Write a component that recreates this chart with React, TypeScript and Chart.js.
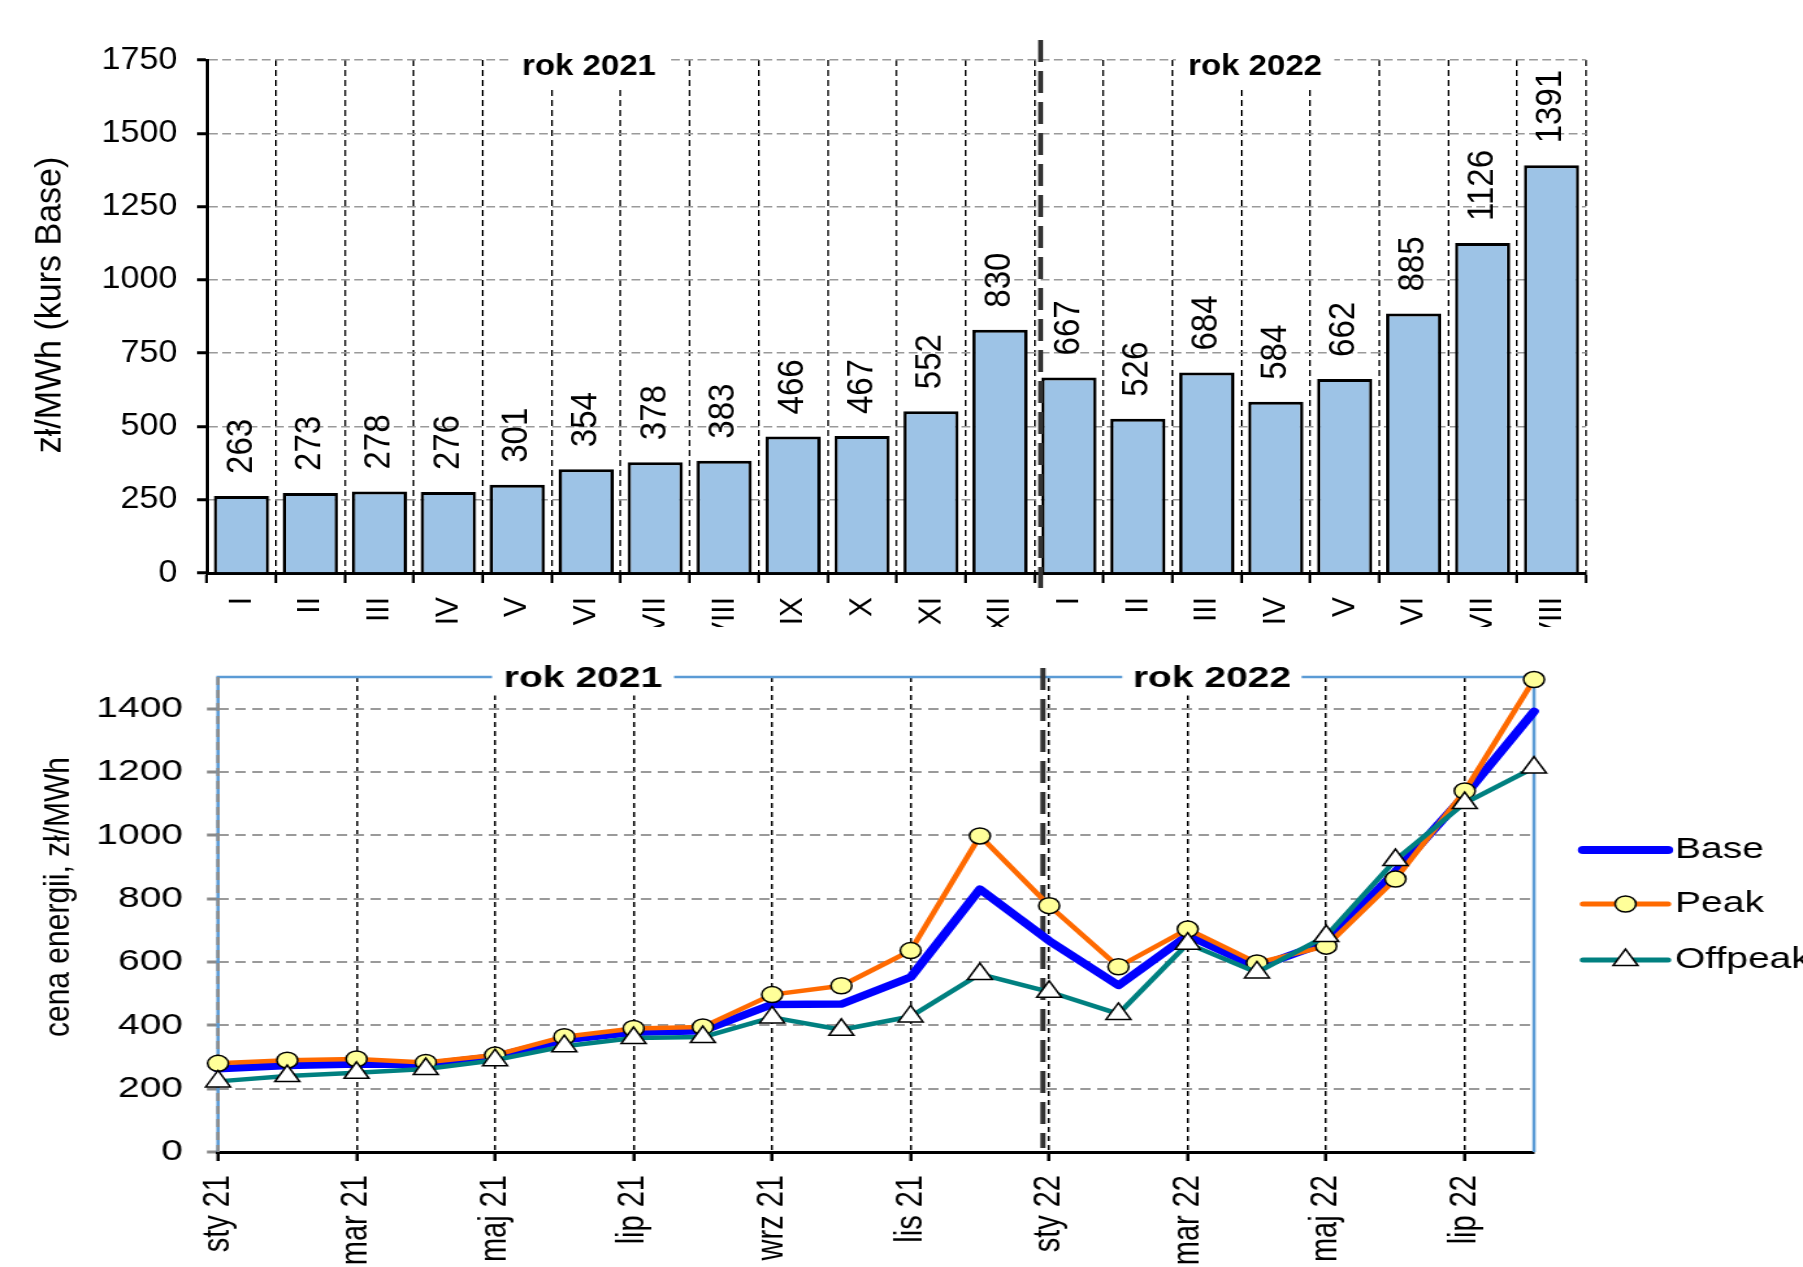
import React, { useEffect, useRef } from 'react';
import { Chart, registerables } from 'chart.js';

Chart.register(...registerables);

const FONT = '"Liberation Sans", Arial, Helvetica, sans-serif';
Chart.defaults.font.family = FONT;

// ---------------- data ----------------
const romanMonths = ['I', 'II', 'III', 'IV', 'V', 'VI', 'VII', 'VIII', 'IX', 'X', 'XI', 'XII', 'I', 'II', 'III', 'IV', 'V', 'VI', 'VII', 'VIII'];
const baseMonthly = [263, 273, 278, 276, 301, 354, 378, 383, 466, 467, 552, 830, 667, 526, 684, 584, 662, 885, 1126, 1391];

const monthLabels = ['sty 21', 'lut 21', 'mar 21', 'kwi 21', 'maj 21', 'cze 21', 'lip 21', 'sie 21', 'wrz 21', 'paź 21', 'lis 21', 'gru 21', 'sty 22', 'lut 22', 'mar 22', 'kwi 22', 'maj 22', 'cze 22', 'lip 22', 'sie 22'];
const baseSeries = [263, 273, 278, 276, 301, 354, 378, 383, 466, 467, 552, 830, 667, 526, 684, 584, 662, 885, 1126, 1391];
const peakSeries = [280, 290, 294, 283, 306, 364, 390, 395, 497, 525, 636, 998, 778, 585, 704, 597, 650, 862, 1140, 1492];
const offpeakSeries = [223, 240, 250, 262, 290, 334, 360, 363, 425, 386, 428, 562, 506, 436, 658, 567, 682, 922, 1102, 1214];

const topYMax = 1750;
const topYStep = 250;
const botYMax = 1500;
const botYStep = 200;
const botYLastLabel = 1400;

const topYTitle = 'zł/MWh (kurs Base)';
const botYTitle = 'cena energii, zł/MWh';
const yearTexts = ['rok 2021', 'rok 2022'];
const seriesNames = ['Base', 'Peak', 'Offpeak'];

// ---------------- page geometry ----------------
const PAGE_W = 1803;
const PAGE_H = 1267;

const TOP_W = Math.round(PAGE_W / 1.1);
const TOP_S = PAGE_W / TOP_W;
const TOP_H = 627;
const TOP_PLOT_L = 207 / TOP_S;
const TOP_PLOT_R = 1586 / TOP_S;
const TOP_PLOT_T = 60;
const TOP_PLOT_B = 573;

const BOT_W = Math.round(PAGE_W / 1.3);
const BOT_S = PAGE_W / BOT_W;
const BOT_Y = 630;
const BOT_H = PAGE_H - BOT_Y;
const BOT_PLOT_L = 218 / BOT_S;
const BOT_PLOT_R = 1534 / BOT_S;
const BOT_PLOT_T = 677 - BOT_Y;
const BOT_PLOT_B = 1152 - BOT_Y;

function drawYearLabel(ctx: any, text: string, cx: number, cy: number, halfW: number, halfH: number) {
  ctx.save();
  ctx.fillStyle = '#ffffff';
  ctx.fillRect(cx - halfW, cy - halfH, halfW * 2, halfH * 2);
  ctx.fillStyle = '#000000';
  ctx.font = `bold 30px ${FONT}`;
  ctx.textAlign = 'center';
  ctx.textBaseline = 'middle';
  ctx.fillText(text, cx, cy);
  ctx.restore();
}

function drawRotatedText(ctx: any, text: string, cx: number, cy: number, font: string, sx: number) {
  ctx.save();
  ctx.translate(cx, cy);
  ctx.scale(sx, 1);
  ctx.rotate(-Math.PI / 2);
  ctx.font = font;
  ctx.fillStyle = '#000';
  ctx.textAlign = 'center';
  ctx.textBaseline = 'middle';
  ctx.fillText(text, 0, 0);
  ctx.restore();
}

const topDecor = {
  id: 'topDecor',
  afterDatasetsDraw(chart: any) {
    const ctx = chart.ctx;
    const meta = chart.getDatasetMeta(0);
    ctx.save();
    ctx.font = `33px ${FONT}`;
    ctx.fillStyle = '#000';
    ctx.textAlign = 'left';
    ctx.textBaseline = 'middle';
    meta.data.forEach((bar: any, i: number) => {
      ctx.save();
      ctx.translate(bar.x, bar.y - 22);
      ctx.rotate(-Math.PI / 2);
      ctx.fillText(String(baseMonthly[i]), 0, 0);
      ctx.restore();
    });
    ctx.restore();
  },
  afterDraw(chart: any) {
    const ctx = chart.ctx;
    const x = chart.scales.x;
    const a = chart.chartArea;
    const sx = x.getPixelForValue(11.59);
    ctx.save();
    ctx.strokeStyle = '#333333';
    ctx.lineWidth = 4.5;
    ctx.setLineDash([22, 9]);
    ctx.beginPath();
    ctx.moveTo(sx, 40);
    ctx.lineTo(sx, 588);
    ctx.stroke();
    ctx.restore();
    drawYearLabel(ctx, yearTexts[0], x.getPixelForValue(5.04), a.top + 7, 72, 19);
    drawYearLabel(ctx, yearTexts[1], x.getPixelForValue(14.7), a.top + 7, 72, 19);
    drawRotatedText(ctx, topYTitle, 45.5, 305, `34px ${FONT}`, 1);
  },
};

const bottomDecor = {
  id: 'bottomDecor',
  beforeDatasetsDraw(chart: any) {
    const ctx = chart.ctx;
    const a = chart.chartArea;
    const x = chart.scales.x;
    ctx.save();
    ctx.strokeStyle = '#5b9bd5';
    ctx.lineWidth = 2.5;
    ctx.beginPath();
    ctx.moveTo(a.left, a.bottom);
    ctx.lineTo(a.left, a.top);
    ctx.lineTo(a.right, a.top);
    ctx.lineTo(a.right, a.bottom);
    ctx.stroke();
    ctx.strokeStyle = '#8c8c8c';
    ctx.lineWidth = 2.5;
    ctx.setLineDash([8, 5]);
    ctx.beginPath();
    ctx.moveTo(a.left, a.top);
    ctx.lineTo(a.left, a.bottom);
    ctx.stroke();
    const sx = x.getPixelForValue(11.91);
    ctx.strokeStyle = '#333333';
    ctx.lineWidth = 4;
    ctx.setLineDash([22, 9]);
    ctx.beginPath();
    ctx.moveTo(sx, 668 - BOT_Y);
    ctx.lineTo(sx, 1148 - BOT_Y);
    ctx.stroke();
    ctx.restore();
  },
  afterDraw(chart: any) {
    const ctx = chart.ctx;
    const a = chart.chartArea;
    const x = chart.scales.x;
    drawYearLabel(ctx, yearTexts[0], x.getPixelForValue(5.27), a.top + 1.5, 70, 17);
    drawYearLabel(ctx, yearTexts[1], x.getPixelForValue(14.35), a.top + 1.5, 69, 17);
    drawRotatedText(ctx, botYTitle, 45.4, 897 - BOT_Y, `30px ${FONT}`, 0.9);

    const ds = chart.data.datasets;
    const lx1 = 1583 / BOT_S;
    const lx2 = 1668 / BOT_S;
    const tx = 1675 / BOT_S;
    const rows = [850 - BOT_Y, 904 - BOT_Y, 960 - BOT_Y];
    const widths = [8, 5, 5];
    ctx.save();
    rows.forEach((ly, i) => {
      const d = ds[i];
      ctx.save();
      ctx.strokeStyle = d.borderColor;
      ctx.lineWidth = widths[i];
      ctx.lineCap = 'round';
      ctx.beginPath();
      ctx.moveTo(lx1, ly);
      ctx.lineTo(lx2, ly);
      ctx.stroke();
      if (d.pointRadius > 0) {
        ctx.fillStyle = d.pointBackgroundColor;
        ctx.strokeStyle = d.pointBorderColor;
        ctx.lineWidth = d.pointBorderWidth;
        const mx = (lx1 + lx2) / 2;
        const r = d.pointRadius;
        ctx.beginPath();
        if (d.pointStyle === 'triangle') {
          ctx.moveTo(mx, ly - r);
          ctx.lineTo(mx + r * Math.sin((2 * Math.PI) / 3), ly - r * Math.cos((2 * Math.PI) / 3));
          ctx.lineTo(mx + r * Math.sin((4 * Math.PI) / 3), ly - r * Math.cos((4 * Math.PI) / 3));
          ctx.closePath();
        } else {
          ctx.arc(mx, ly, r, 0, Math.PI * 2);
        }
        ctx.fill();
        ctx.stroke();
      }
      ctx.restore();
      ctx.fillStyle = '#000';
      ctx.font = `30px ${FONT}`;
      ctx.textAlign = 'left';
      ctx.textBaseline = 'middle';
      ctx.fillText(seriesNames[i], tx, ly);
    });
    ctx.restore();
  },
};

function makeTopChart(canvas: HTMLCanvasElement) {
  return new Chart(canvas, {
    type: 'bar',
    data: {
      labels: romanMonths,
      datasets: [
        {
          label: 'Base',
          data: baseMonthly,
          backgroundColor: '#9dc3e6',
          borderColor: '#000000',
          borderWidth: 3,
          barPercentage: 0.8,
          categoryPercentage: 1,
        },
      ],
    },
    options: {
      responsive: false,
      animation: false,
      devicePixelRatio: 1,
      events: [],
      layout: { padding: { left: 20, right: TOP_W - TOP_PLOT_R, top: TOP_PLOT_T, bottom: 0 } },
      plugins: { legend: { display: false }, tooltip: { enabled: false }, title: { display: false } },
      scales: {
        x: {
          type: 'category',
          offset: true,
          grid: { offset: true, color: '#000', lineWidth: 1.5, tickLength: 10, tickColor: '#000', tickWidth: 2.5, tickBorderDash: [] },
          border: { display: true, color: '#000', width: 3, dash: [6, 4] },
          ticks: { autoSkip: false, maxRotation: 90, minRotation: 90, padding: 14, color: '#000', font: { family: FONT, size: 30 } },
          afterFit: (s: any) => { s.height = TOP_H - TOP_PLOT_B; },
        },
        y: {
          min: 0,
          max: topYMax,
          ticks: { stepSize: topYStep, padding: 18, color: '#000', font: { family: FONT, size: 31 }, callback: (v: any) => String(v) },
          grid: { color: '#9a9a9a', lineWidth: 1.5, tickLength: 9, tickColor: '#000', tickWidth: 3, tickBorderDash: [] },
          border: { display: true, color: '#000', width: 3, dash: [8, 4] },
          afterFit: (s: any) => { s.width = TOP_PLOT_L - 20; },
        },
      },
    } as any,
    plugins: [topDecor],
  } as any);
}

function makeBottomChart(canvas: HTMLCanvasElement) {
  return new Chart(canvas, {
    type: 'line',
    data: {
      labels: monthLabels,
      datasets: [
        {
          label: seriesNames[0],
          data: baseSeries,
          borderColor: '#0000ff',
          borderWidth: 7.5,
          pointRadius: 0,
          pointHoverRadius: 0,
          tension: 0,
          borderJoinStyle: 'round',
          borderCapStyle: 'round',
          clip: false,
          order: 3,
        },
        {
          label: seriesNames[1],
          data: peakSeries,
          borderColor: '#ff6a00',
          borderWidth: 4.5,
          pointStyle: 'circle',
          pointRadius: 8,
          pointBackgroundColor: '#ffff99',
          pointBorderColor: '#000000',
          pointBorderWidth: 1.5,
          tension: 0,
          borderJoinStyle: 'round',
          clip: false,
          order: 2,
        },
        {
          label: seriesNames[2],
          data: offpeakSeries,
          borderColor: '#008080',
          borderWidth: 4.5,
          pointStyle: 'triangle',
          pointRadius: 11,
          pointBackgroundColor: '#ffffff',
          pointBorderColor: '#000000',
          pointBorderWidth: 1.5,
          tension: 0,
          borderJoinStyle: 'round',
          clip: false,
          order: 1,
        },
      ],
    },
    options: {
      responsive: false,
      animation: false,
      devicePixelRatio: 1,
      events: [],
      layout: { padding: { left: 24, right: BOT_W - BOT_PLOT_R, top: BOT_PLOT_T, bottom: 0 } },
      plugins: { legend: { display: false }, tooltip: { enabled: false }, title: { display: false } },
      scales: {
        x: {
          type: 'category',
          offset: false,
          grid: {
            color: (c: any) => (c.index % 2 === 0 && c.index > 0 && c.index < monthLabels.length - 1 ? '#000' : 'rgba(0,0,0,0)'),
            lineWidth: 1.5,
            tickLength: 9,
            tickColor: (c: any) => (c.index % 2 === 0 ? '#000' : 'rgba(0,0,0,0)'),
            tickWidth: 2.5,
            tickBorderDash: [],
          },
          border: { display: true, color: '#000', width: 3, dash: [5, 4] },
          ticks: {
            autoSkip: false,
            maxRotation: 90,
            minRotation: 90,
            padding: 14,
            color: '#000',
            font: { family: FONT, size: 29 },
            callback: (_v: any, i: number) => (i % 2 === 0 ? monthLabels[i] : ''),
          },
          afterFit: (s: any) => { s.height = BOT_H - BOT_PLOT_B; },
        },
        y: {
          min: 0,
          max: botYMax,
          bounds: 'data',
          afterBuildTicks: (s: any) => { s.ticks = s.ticks.filter((t: any) => t.value <= botYLastLabel); },
          ticks: { stepSize: botYStep, includeBounds: false, padding: 18.4, color: '#000', font: { family: FONT, size: 30 }, callback: (v: any) => String(v) },
          grid: { color: '#9a9a9a', lineWidth: 2, tickLength: 8.5, tickColor: '#8a8a8a', tickWidth: 3, tickBorderDash: [] },
          border: { display: false, dash: [8, 5] },
          afterFit: (s: any) => { s.width = BOT_PLOT_L - 24; },
        },
      },
    } as any,
    plugins: [bottomDecor],
  } as any);
}

export default function App() {
  const topRef = useRef<HTMLCanvasElement>(null);
  const botRef = useRef<HTMLCanvasElement>(null);

  useEffect(() => {
    const top = makeTopChart(topRef.current as HTMLCanvasElement);
    const bot = makeBottomChart(botRef.current as HTMLCanvasElement);
    return () => {
      top.destroy();
      bot.destroy();
    };
  }, []);

  return (
    <div style={{ position: 'absolute', left: 0, top: 0, width: PAGE_W, height: PAGE_H, overflow: 'hidden', background: '#ffffff' }}>
      <canvas
        ref={topRef}
        width={TOP_W}
        height={TOP_H}
        style={{ position: 'absolute', left: 0, top: 0, width: TOP_W, height: TOP_H, transform: `scaleX(${TOP_S})`, transformOrigin: '0 0' }}
      />
      <canvas
        ref={botRef}
        width={BOT_W}
        height={BOT_H}
        style={{ position: 'absolute', left: 0, top: BOT_Y, width: BOT_W, height: BOT_H, transform: `scaleX(${BOT_S})`, transformOrigin: '0 0' }}
      />
    </div>
  );
}
